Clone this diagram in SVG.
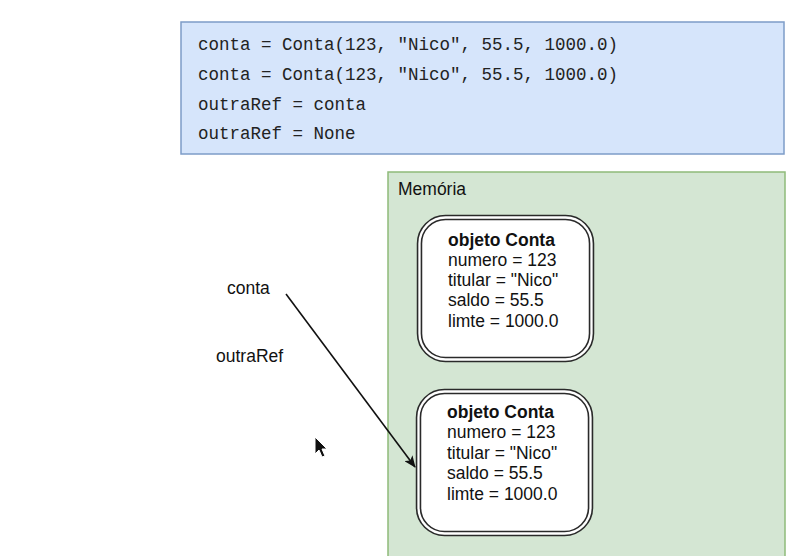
<svg xmlns="http://www.w3.org/2000/svg" width="811" height="556" viewBox="0 0 811 556">
<defs>
<style>
.code{font-family:"Liberation Mono","Courier New",monospace;font-size:17.5px;fill:#222}
.lbl{font-family:"Liberation Sans",Arial,Helvetica,sans-serif;font-size:17.5px;fill:#111}
.b{font-weight:bold}
.obj{fill:none}
</style>
<marker id="ah" viewBox="0 0 12 10" refX="11" refY="5" markerWidth="12" markerHeight="10" markerUnits="userSpaceOnUse" orient="auto">
<path d="M0,0 L12,5 L0,10 L3,5 Z" fill="#111"/>
</marker>
</defs>
<rect width="811" height="556" fill="#ffffff"/>
<g id="code">
<rect x="181" y="22" width="603" height="132" fill="#d6e5fb" stroke="#7d9cc8" stroke-width="1.5"/>
<text class="code" x="198" y="50">conta = Conta(123, "Nico", 55.5, 1000.0)</text>
<text class="code" x="198" y="80">conta = Conta(123, "Nico", 55.5, 1000.0)</text>
<text class="code" x="198" y="110">outraRef = conta</text>
<text class="code" x="198" y="139">outraRef = None</text>
</g>
<g id="memoria">
<rect x="388" y="172" width="397" height="400" fill="#d4e6d3" stroke="#8fbb7a" stroke-width="1.5"/>
<text class="lbl" x="398" y="195">Memória</text>
</g>
<g id="conta-label"><text class="lbl" x="227" y="294">conta</text></g>
<g id="outraRef-label"><text class="lbl" x="216" y="362">outraRef</text></g>
<g id="objeto1">
<rect x="419.5" y="217.5" width="172" height="142" rx="26" fill="#ffffff" stroke="#2a2a2a" stroke-width="5.5"/>
<rect x="419.5" y="217.5" width="172" height="142" rx="26" class="obj" stroke="#ffffff" stroke-width="2.3"/>
<text class="lbl b" x="448" y="246">objeto Conta</text>
<text class="lbl" x="448" y="266">numero = 123</text>
<text class="lbl" x="448" y="286">titular = "Nico"</text>
<text class="lbl" x="448" y="306">saldo = 55.5</text>
<text class="lbl" x="448" y="327">limte = 1000.0</text>
</g>
<g id="objeto2">
<rect x="418.5" y="391.5" width="172" height="142" rx="26" fill="#ffffff" stroke="#2a2a2a" stroke-width="5.5"/>
<rect x="418.5" y="391.5" width="172" height="142" rx="26" class="obj" stroke="#ffffff" stroke-width="2.3"/>
<text class="lbl b" x="447" y="418">objeto Conta</text>
<text class="lbl" x="447" y="438">numero = 123</text>
<text class="lbl" x="447" y="459">titular = "Nico"</text>
<text class="lbl" x="447" y="479">saldo = 55.5</text>
<text class="lbl" x="447" y="500">limte = 1000.0</text>
</g>
<g id="connectors">
<line x1="286" y1="294" x2="415" y2="467" stroke="#111" stroke-width="1.6" marker-end="url(#ah)"/>
</g>
<path d="M315,437 L315,454 L319,450 L322,457 L325,456 L322,449 L327,449 Z" fill="#111" stroke="#fff" stroke-width="1"/>
</svg>
